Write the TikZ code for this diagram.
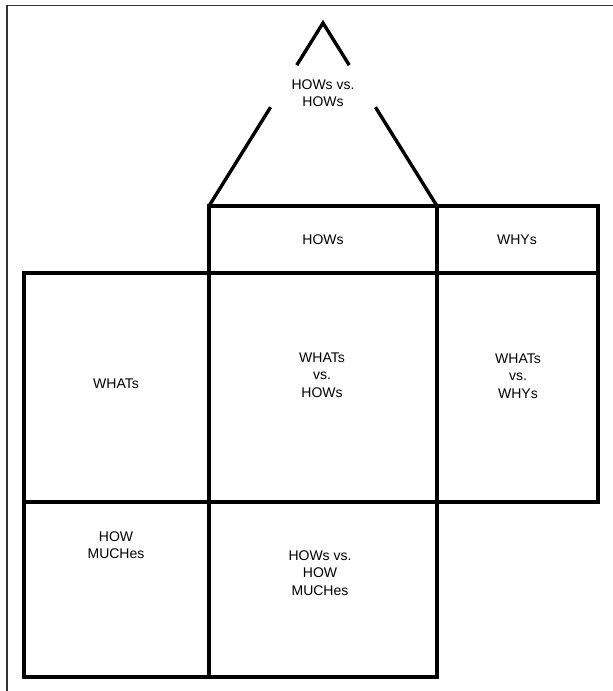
\documentclass[tikz,border=0pt]{standalone}
\usepackage{fontspec}
\setmainfont{Liberation Sans}
\usetikzlibrary{calc}

\begin{document}
\begin{tikzpicture}[x=1pt,y=-1pt,
    cell/.style={line width=3.6pt,line join=miter},
    roof/.style={line width=3.4pt},
    frame/.style={line width=1.3pt,black!80},
    lbl/.style={align=center,font=\fontsize{14}{17.5}\selectfont,inner sep=0pt}]
  \useasboundingbox (0,0) rectangle (613,691);
  % thin page frame, only top and left survive
  \draw[frame] (7,691) -- (7,5.5) -- (613,5.5);
  % the house: one rectangle per room
  \foreach \xa/\ya/\xb/\yb in {209/206/437/273, 437/206/598/273,
                               24/273/209/502, 209/273/437/502, 437/273/598/502,
                               24/502/209/677, 209/502/437/677}
     { \draw[cell] (\xa,\ya) rectangle (\xb,\yb); }
  % roof, broken round its label
  \coordinate (apex)  at (323,23);
  \coordinate (eaveL) at (209,206);
  \coordinate (eaveR) at (437,206);
  \draw[roof] ($(apex)!0.23!(eaveL)$) -- (apex) -- ($(apex)!0.23!(eaveR)$);
  \draw[roof] (eaveL) -- ($(eaveL)!0.54!(apex)$);
  \draw[roof] (eaveR) -- ($(eaveR)!0.54!(apex)$);
  \node[lbl] (roofTxt) at (323,93)  {HOWs vs.\\HOWs};
  \node[lbl] (hows)    at (323,240) {HOWs};
  \node[lbl] (whys)    at (517,240) {WHYs};
  \node[lbl] (whats)   at (116,384) {WHATs};
  \node[lbl] (whatHow) at (322,375) {WHATs\\vs.\\HOWs};
  \node[lbl] (whatWhy) at (518,376) {WHATs\\vs.\\WHYs};
  \node[lbl] (howMuch) at (116,545) {HOW\\MUCHes};
  \node[lbl] (howsMuch) at (320,573) {HOWs vs.\\HOW\\MUCHes};
\end{tikzpicture}
\end{document}
